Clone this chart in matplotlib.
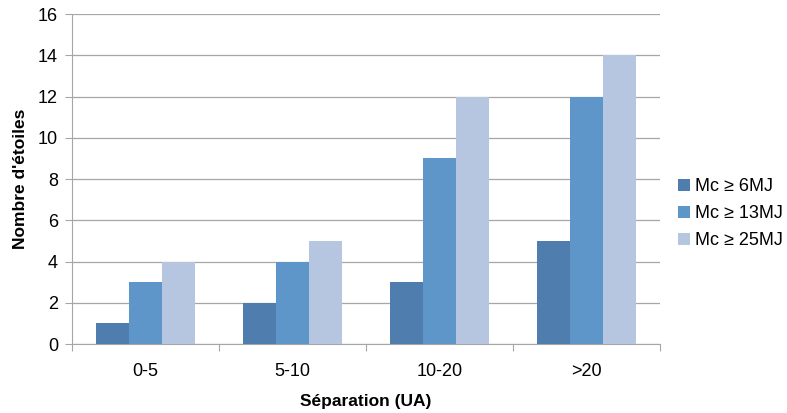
import numpy as np
import matplotlib
matplotlib.use("Agg")
import matplotlib.pyplot as plt

plt.rcParams['font.family'] = ['Liberation Sans', 'DejaVu Sans']

categories = ["0-5", "5-10", "10-20", ">20"]
mc6 = [1, 2, 3, 5]
mc13 = [3, 4, 9, 12]
mc25 = [4, 5, 12, 14]
series_labels = ["Mc ≥ 6MJ", "Mc ≥ 13MJ", "Mc ≥ 25MJ"]
colors = ["#4F7DAE", "#5F96C9", "#B7C6E0"]

fig = plt.figure(figsize=(7.87, 4.13), dpi=100)
ax = fig.add_axes([0.0915, 0.167, 0.747, 0.799])

x = np.arange(len(categories))
w = 0.224
for i, (vals, lab, col) in enumerate(zip([mc6, mc13, mc25], series_labels, colors)):
    ax.bar(x + (i - 1) * w, vals, w, color=col, label=lab, zorder=3)

ax.set_xlim(-0.5, len(categories) - 0.5)
ax.set_ylim(0, 16)
ax.set_yticks(range(0, 17, 2))
ax.yaxis.grid(True, color="#A6A6A6", linewidth=0.9, zorder=0)

# tick marks at category boundaries, labels at centres
ax.set_xticks(np.arange(-0.5, len(categories), 1.0))
ax.set_xticklabels([])
ax.set_xticks(x, minor=True)
ax.set_xticklabels(categories, minor=True)
ax.tick_params(axis="x", which="major", length=5, color="#A6A6A6")
ax.tick_params(axis="x", which="minor", length=0, pad=14, labelsize=13)
ax.tick_params(axis="y", length=5, color="#A6A6A6", labelsize=13, pad=5)

for s in ["top", "right"]:
    ax.spines[s].set_visible(False)
ax.spines["left"].set_color("#A6A6A6")
ax.spines["bottom"].set_color("#A6A6A6")

ax.set_xlabel("Séparation (UA)", fontsize=12.5, fontweight="bold", labelpad=10)
ax.set_ylabel("Nombre d'étoiles", fontsize=12.5, fontweight="bold", labelpad=7)

ax.legend(loc="center left", bbox_to_anchor=(1.003, 0.395), frameon=False,
          fontsize=13, handlelength=0.65, handleheight=0.65, handletextpad=0.3,
          labelspacing=0.55)

fig.savefig("out.png", dpi=100)
